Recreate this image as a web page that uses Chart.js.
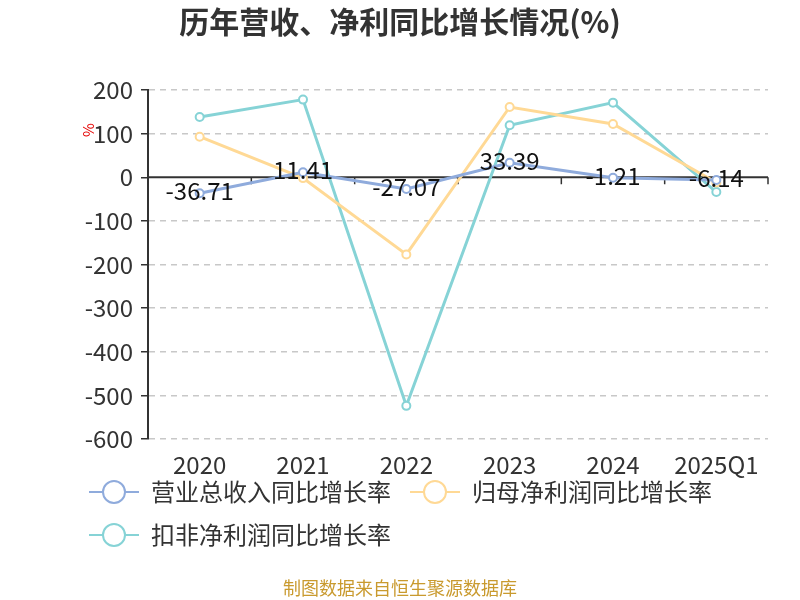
<!DOCTYPE html>
<html>
<head>
<meta charset="utf-8">
<script src="https://cdn.jsdelivr.net/npm/chart.js@4"></script>
<style>
  html, body { margin: 0; padding: 0; background: #fff; }
  #wrap { width: 800px; height: 600px; }
</style>
</head>
<body>
<div id="wrap"><canvas id="c" width="800" height="600"></canvas></div>
<script>
const FONT = '"Noto Sans CJK SC", "Noto Sans", sans-serif';

// data
const categories = ['2020', '2021', '2022', '2023', '2024', '2025Q1'];
const revenueGrowth = [-36.71, 11.41, -27.07, 33.39, -1.21, -6.14];
const netProfitGrowth = [93, -2, -177, 161, 122, -12];
const deductedProfitGrowth = [138, 178, -524, 119, 171, -34];
const seriesNames = ['营业总收入同比增长率', '归母净利润同比增长率', '扣非净利润同比增长率'];
const seriesColors = ['#8fabdc', '#ffd995', '#86d3d6'];
const yTicks = [200, 100, 0, -100, -200, -300, -400, -500, -600];
const titleText = '历年营收、净利同比增长情况(%)';
const footerText = '制图数据来自恒生聚源数据库';

// legend symbol: a short line with a hollow circle in the middle
function legendIcon(color) {
    const c = document.createElement('canvas');
    c.width = 50; c.height = 26;
    const g = c.getContext('2d');
    g.strokeStyle = color; g.lineWidth = 2;
    g.beginPath(); g.moveTo(0, 13); g.lineTo(50, 13); g.stroke();
    g.beginPath(); g.arc(25, 13, 11, 0, Math.PI * 2);
    g.fillStyle = '#fff'; g.fill(); g.stroke();
    return c;
}
const icons = seriesColors.map(legendIcon);

// x axis line drawn at zero with boundary ticks, category labels at the bottom
const zeroAxis = {
    id: 'zeroAxis',
    beforeDatasetsDraw(chart) {
        const { ctx, chartArea, scales: { x, y } } = chart;
        const y0 = y.getPixelForValue(0);
        const half = (x.getPixelForValue(1) - x.getPixelForValue(0)) / 2;
        ctx.save();
        ctx.strokeStyle = '#333'; ctx.lineWidth = 2;
        ctx.beginPath(); ctx.moveTo(chartArea.left, y0); ctx.lineTo(chartArea.right, y0); ctx.stroke();
        ctx.lineWidth = 1.5;
        for (let i = 0; i <= categories.length; i++) {
            const px = x.getPixelForValue(i) - half;
            ctx.beginPath(); ctx.moveTo(px, y0); ctx.lineTo(px, y0 + 7); ctx.stroke();
        }
        ctx.font = '24px ' + FONT;
        ctx.fillStyle = '#333';
        ctx.textAlign = 'center';
        ctx.textBaseline = 'middle';
        categories.forEach((c, i) => ctx.fillText(c, x.getPixelForValue(i), chartArea.bottom + 26));
        ctx.restore();
    }
};

// value labels on the revenue series, the red "%" unit, title and footer
const labelsPlugin = {
    id: 'valueLabels',
    afterDatasetsDraw(chart) {
        const { ctx, chartArea } = chart;
        const meta = chart.getDatasetMeta(0);
        ctx.save();
        ctx.textAlign = 'center';
        ctx.textBaseline = 'middle';

        ctx.font = 'bold 30px ' + FONT;
        ctx.fillStyle = '#333';
        ctx.fillText(titleText, chart.width / 2, 22);

        ctx.font = '18px ' + FONT;
        ctx.fillStyle = '#c99a2e';
        ctx.fillText(footerText, chart.width / 2, 588);

        ctx.font = '24px ' + FONT;
        ctx.fillStyle = '#111';
        meta.data.forEach((pt, i) => {
            ctx.fillText(revenueGrowth[i].toFixed(2), pt.x, pt.y - 2);
        });

        ctx.translate(chartArea.left - 60, chartArea.top + 40);
        ctx.rotate(-Math.PI / 2);
        ctx.font = '15px ' + FONT;
        ctx.fillStyle = '#e60000';
        ctx.fillText('%', 0, 0);
        ctx.restore();
    }
};

const series = [revenueGrowth, netProfitGrowth, deductedProfitGrowth];

new Chart(document.getElementById('c'), {
    type: 'line',
    data: {
        labels: categories,
        datasets: series.map((d, i) => ({
            label: seriesNames[i],
            data: d,
            borderColor: seriesColors[i],
            backgroundColor: '#fff',
            pointBackgroundColor: '#fff',
            pointBorderColor: seriesColors[i],
            pointRadius: 4, pointBorderWidth: 2,
            borderWidth: 3, tension: 0, fill: false,
        })),
    },
    options: {
        responsive: false, animation: false,
        layout: { padding: { left: 70, right: 32, top: 90, bottom: 43 } },
        plugins: {
            title: { display: false },
            legend: {
                position: 'bottom', align: 'start',
                labels: {
                    usePointStyle: true, pointStyleWidth: 50, padding: 19,
                    color: '#333', font: { family: FONT, size: 24 },
                    generateLabels(chart) {
                        return Chart.defaults.plugins.legend.labels.generateLabels(chart)
                            .map((l, i) => ({ ...l, pointStyle: icons[i] }));
                    },
                },
            },
            tooltip: { enabled: false },
        },
        scales: {
            x: {
                offset: true,
                grid: { display: false, drawTicks: false },
                border: { display: false },
                ticks: { display: false },
                afterFit(s) { s.height = 22; },
            },
            y: {
                min: -600, max: 200,
                afterBuildTicks(s) { s.ticks = yTicks.map(v => ({ value: v })); },
                afterFit(s) { s.width = 78; },
                grid: {
                    color: c => (c.tick && c.tick.value === 0 ? 'rgba(0,0,0,0)' : '#c8c8c8'),
                    lineWidth: 1.5,
                    tickColor: '#333', tickLength: 7, tickWidth: 1.5,
                },
                border: { color: '#333', width: 2, dash: [6, 5] },
                ticks: { color: '#333', padding: 8, font: { family: FONT, size: 24 } },
            },
        },
    },
    plugins: [zeroAxis, labelsPlugin],
});
</script>
</body>
</html>
